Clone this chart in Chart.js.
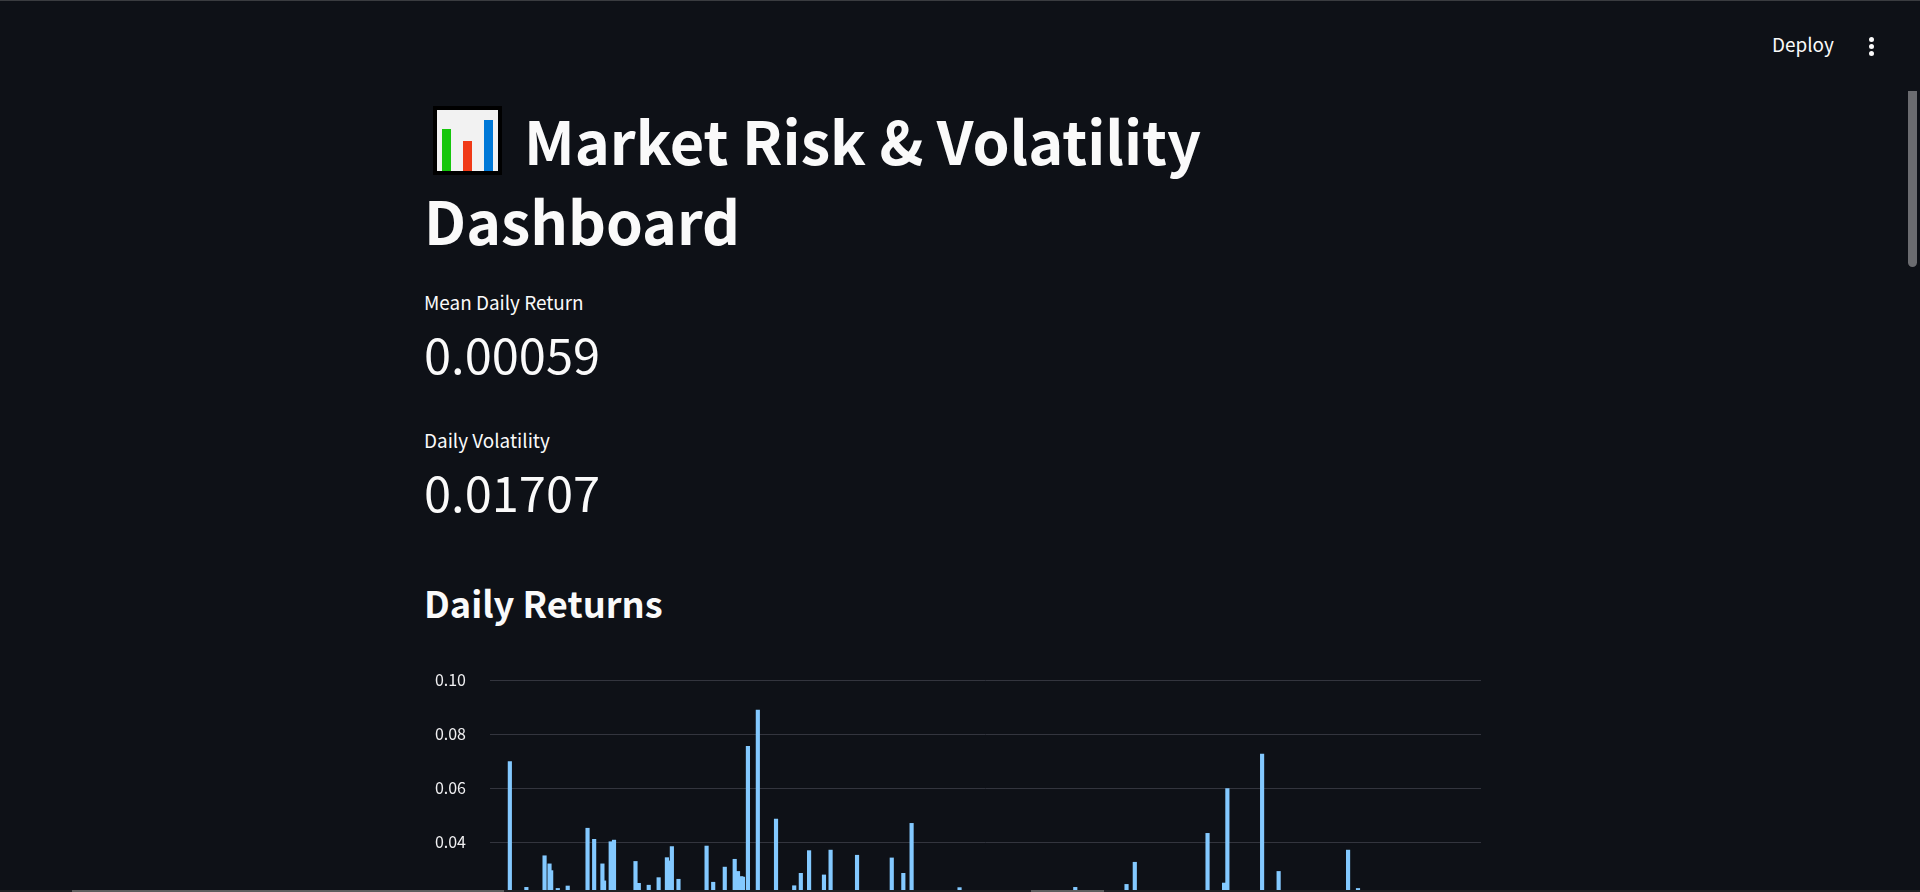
<!DOCTYPE html>
<html lang="en">
<head>
    <meta charset="UTF-8">
    <title>Market Risk &amp; Volatility Dashboard</title>
    <script src="https://cdn.jsdelivr.net/npm/chart.js"></script>
    <style>
        html, body {
            margin: 0;
            padding: 0;
            width: 1920px;
            height: 892px;
            overflow: hidden;
            background-color: #0e1117;
            color: #fafafa;
            font-family: "Noto Sans CJK SC", "Noto Sans", sans-serif;
        }
        .abs { position: absolute; white-space: nowrap; line-height: 1; }
        #topline { position: absolute; left: 0; top: 0; width: 1920px; height: 1px; background: #3a3c40; }
        #title1 { left: 524px; top: 110px; font-size: 59.4px; font-weight: 700; }
        #title2 { left: 424px; top: 190px; font-size: 59px; font-weight: 700; }
        .metric-label { left: 424px; font-size: 18.9px; }
        .metric-value { left: 424px; font-size: 48.8px; }
        #section { left: 424px; top: 584px; font-size: 36.2px; font-weight: 700; }
        #deploy { left: 1772px; top: 35px; font-size: 18.9px; }
        .dot { position: absolute; left: 1869px; width: 5px; height: 5px; border-radius: 50%; background: #fafafa; }
        #vscroll { position: absolute; left: 1908px; top: 91px; width: 9px; height: 176px; background: #6b6c70; border-radius: 0 0 5px 5px; }
        #hscroll { position: absolute; left: 0; top: 890px; width: 1920px; height: 2px; background: #1f2024; }
        .hthumb { position: absolute; top: 0; height: 2px; background: #5e5e5e; }
        #emoji { position: absolute; left: 433px; top: 106px; width: 61px; height: 61px; border: 4px solid #000; background: #f2f2f2; }
        #emoji div { position: absolute; bottom: 0; width: 9px; }
        #chart-container { position: absolute; left: 425px; top: 647px; width: 1056px; height: 390px; }
    </style>
</head>
<body>
    <div id="topline"></div>
    <div class="abs" id="deploy">Deploy</div>
    <div class="dot" style="top:37px"></div>
    <div class="dot" style="top:44px"></div>
    <div class="dot" style="top:51px"></div>
    <div id="vscroll"></div>

    <div id="emoji">
        <div style="left:5px;height:42px;background:#16c60c"></div>
        <div style="left:26px;height:30px;background:#f03a17"></div>
        <div style="left:47px;height:51px;background:#0078d7"></div>
    </div>
    <div class="abs" id="title1">Market Risk &amp; Volatility</div>
    <div class="abs" id="title2">Dashboard</div>

    <div class="abs metric-label" style="top:293px">Mean Daily Return</div>
    <div class="abs metric-value" style="top:329px">0.00059</div>
    <div class="abs metric-label" style="top:431px">Daily Volatility</div>
    <div class="abs metric-value" style="top:467px">0.01707</div>

    <div class="abs" id="section">Daily Returns</div>

    <div id="chart-container">
        <canvas id="returnsChart"></canvas>
    </div>

    <div id="hscroll">
        <div class="hthumb" style="left:72px;width:432px"></div>
        <div class="hthumb" style="left:1031px;width:73px"></div>
    </div>

    <script>
        // Only the spikes above the fold could be read, x is days from the start of the axis
        const days = [12, 22, 33, 36, 37, 41, 47, 59, 63, 68, 69, 73, 75, 88, 90, 96, 102, 107, 108, 110,
            114, 131, 135, 142, 148, 150, 152, 153, 156, 162, 173, 184, 188, 193, 202, 206, 222, 243, 250, 255,
            284, 354, 385, 390, 434, 444, 446, 467, 477, 519, 525];
        const dailyReturns = [0.0698, 0.0232, 0.0349, 0.0319, 0.0294, 0.0228, 0.0237, 0.0451, 0.0410, 0.0319,
            0.0256, 0.0401, 0.0407, 0.0328, 0.0247, 0.0240, 0.0268, 0.0342, 0.0330, 0.0383,
            0.0262, 0.0385, 0.0251, 0.0307, 0.0336, 0.0291, 0.0272, 0.0270, 0.0754, 0.0889,
            0.0485, 0.0238, 0.0284, 0.0368, 0.0278, 0.0370, 0.0351, 0.0341, 0.0284, 0.0469,
            0.0231, 0.0232, 0.0243, 0.0325, 0.0432, 0.0248, 0.0598, 0.0726, 0.0291, 0.0370, 0.0228];

        const ctx = document.getElementById('returnsChart').getContext('2d');
        new Chart(ctx, {
            type: 'bar',
            data: {
                datasets: [{
                    label: 'Daily Returns',
                    data: days.map((d, i) => ({ x: d, y: dailyReturns[i] })),
                    backgroundColor: '#83c9ff',
                    barThickness: 3.5
                }]
            },
            options: {
                responsive: true,
                maintainAspectRatio: false,
                animation: false,
                plugins: { legend: { display: false }, tooltip: { enabled: false } },
                scales: {
                    x: { type: 'linear', min: 0, max: 599.4, offset: false, display: false },
                    y: {
                        min: -0.02,
                        max: 0.10,
                        afterFit: (scale) => { scale.width = 65; },
                        border: { display: false },
                        grid: { color: '#33353e', lineWidth: 1, drawTicks: false },
                        ticks: {
                            stepSize: 0.02,
                            padding: 24,
                            color: '#f0f0f2',
                            font: { family: '"Noto Sans CJK SC", "Noto Sans", sans-serif', size: 16, lineHeight: '18px' },
                            callback: (v) => v.toFixed(2)
                        }
                    }
                }
            }
        });
    </script>
</body>
</html>
